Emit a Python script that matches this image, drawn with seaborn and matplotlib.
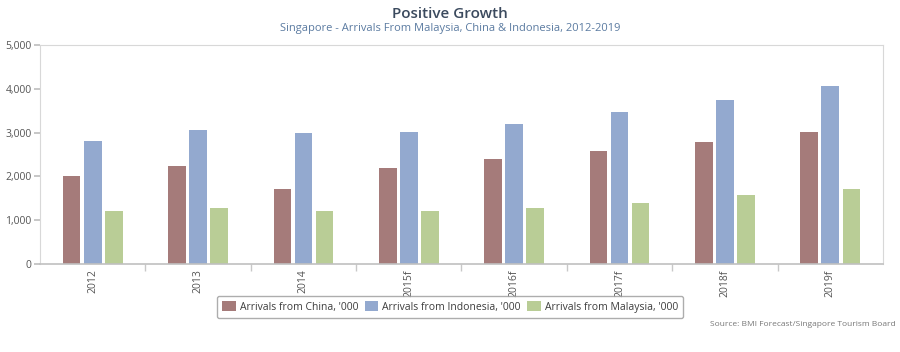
import pandas as pd
import matplotlib.pyplot as plt
import seaborn as sns
from matplotlib.ticker import FuncFormatter, FixedLocator

years = ['2012', '2013', '2014', '2015f', '2016f', '2017f', '2018f', '2019f']
china = [2010, 2240, 1705, 2190, 2400, 2590, 2780, 3005]
indonesia = [2810, 3060, 3000, 3010, 3200, 3460, 3745, 4070]
malaysia = [1210, 1270, 1210, 1210, 1280, 1400, 1575, 1710]
series = ["Arrivals from China, '000", "Arrivals from Indonesia, '000",
          "Arrivals from Malaysia, '000"]
colors = ['#a57b7a', '#93a9cf', '#b9cd96']

df = pd.DataFrame({
    'year': years * 3,
    'value': china + indonesia + malaysia,
    'series': [s for s in series for _ in years],
})

sns.set_theme(style='white')
plt.rcParams['font.family'] = ['Open Sans', 'DejaVu Sans']

fig = plt.figure(figsize=(9, 3.52), dpi=100)
ax = fig.add_axes([40 / 900, 1 - 264 / 352, 843 / 900, 219 / 352])

sns.barplot(data=df, x='year', y='value', hue='series', palette=colors,
            width=0.6, gap=0.16, ax=ax, saturation=1, legend=True,
            linewidth=0, edgecolor='none')

ax.set_ylim(0, 5000)
ax.set_xlim(-0.5, len(years) - 0.5)
ax.set_yticks(range(0, 5001, 1000))
ax.yaxis.set_major_formatter(FuncFormatter(lambda v, p: f'{int(v):,}'))
ax.set_xlabel('')
ax.set_ylabel('')
ax.tick_params(axis='y', labelsize=7.5, colors='#555555', length=4,
               color='#c0c0c0', left=True, pad=2)
ax.tick_params(axis='x', labelsize=7.5, colors='#555555', length=0,
               rotation=90, pad=4)
ax.xaxis.set_minor_locator(FixedLocator([i + 0.5 for i in range(len(years) - 1)]))
ax.tick_params(axis='x', which='minor', bottom=True, length=5, color='#c8c8c8')

for side in ['top', 'right', 'left']:
    ax.spines[side].set_color('#d8d8d8')
    ax.spines[side].set_linewidth(0.8)
ax.spines['bottom'].set_color('#c0c0c0')
ax.spines['bottom'].set_linewidth(1.2)

handles, labels = ax.get_legend_handles_labels()
ax.legend_.remove()
leg = fig.legend(handles, labels, loc='center', bbox_to_anchor=(0.5, 1 - 307 / 352),
                 ncol=3, frameon=True, fontsize=7.5, handlelength=1.3,
                 handleheight=1.1, columnspacing=0.6, handletextpad=0.4,
                 borderpad=0.5, fancybox=True, edgecolor='#999999')
for t in leg.get_texts():
    t.set_color('#3d3d3d')

fig.text(0.5, 1 - 14 / 352, 'Positive Growth', ha='center', va='center',
         fontsize=11, fontweight='semibold', color='#3b4a5e')
fig.text(0.5, 1 - 28 / 352,
         'Singapore - Arrivals From Malaysia, China & Indonesia, 2012-2019',
         ha='center', va='center', fontsize=8, color='#5b7ba1')
fig.text(896 / 900, 1 - 325 / 352, 'Source: BMI Forecast/Singapore Tourism Board',
         ha='right', va='center', fontsize=6, color='#777777')

fig.savefig('out.png', dpi=100)
